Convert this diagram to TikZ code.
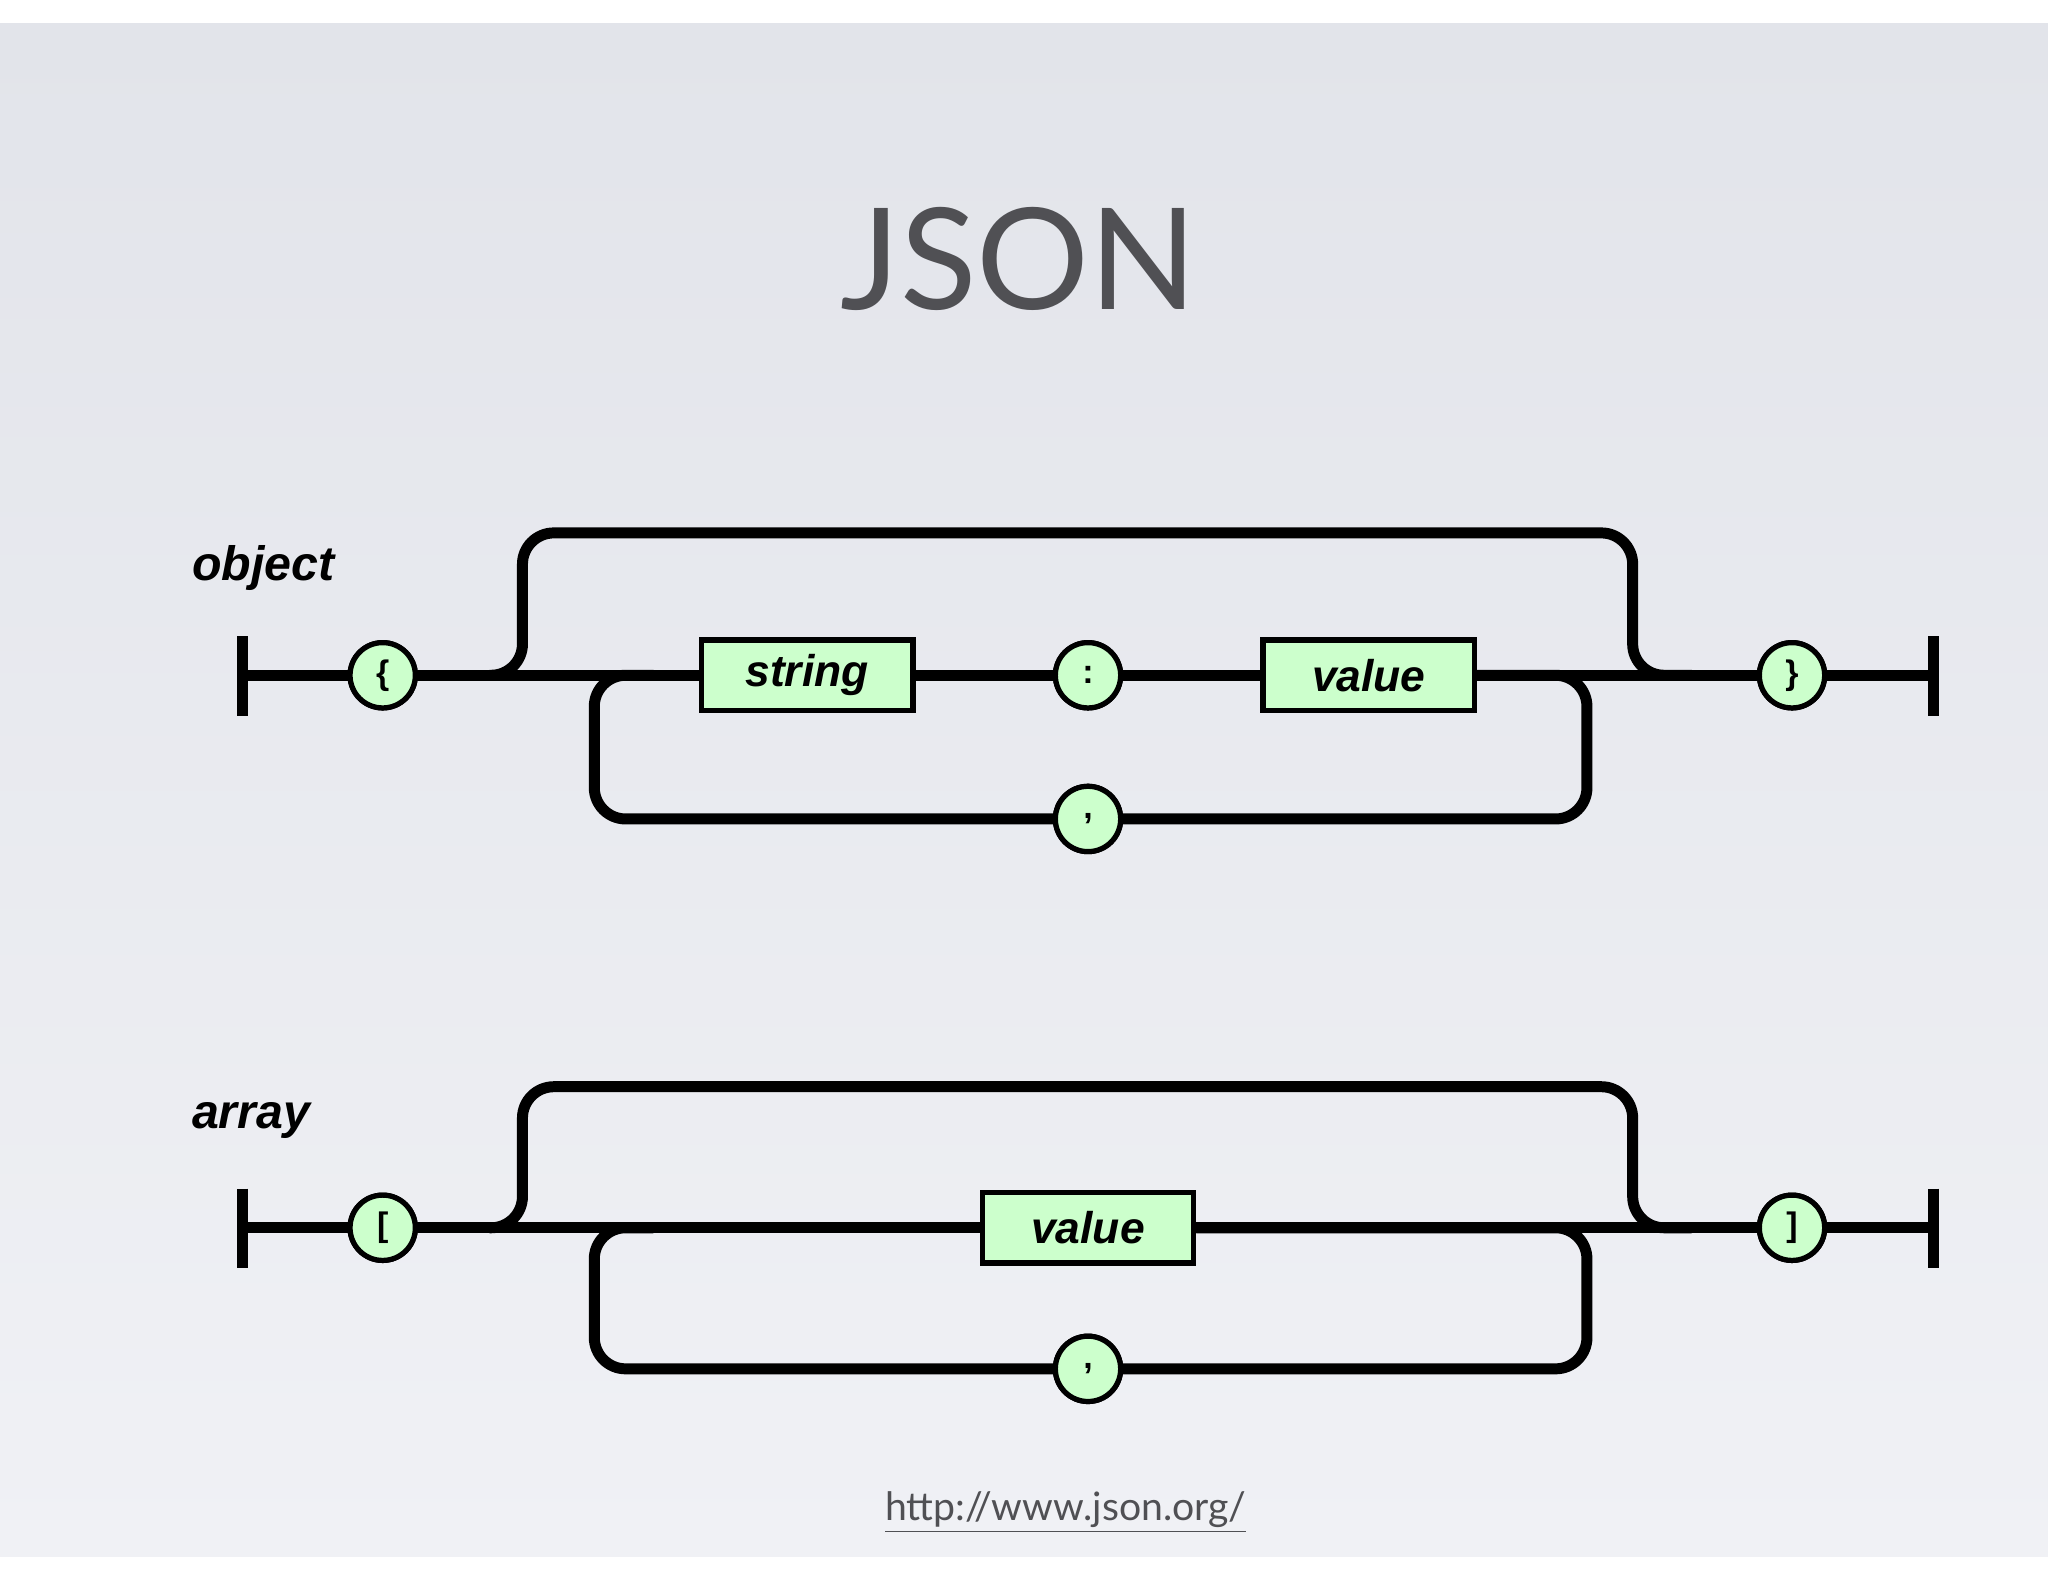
\documentclass[tikz,border=0pt]{standalone}
\usepackage{fontspec}
\setmainfont{Liberation Sans}
\newfontfamily\titlefont{Lato}
\usetikzlibrary{shadings}
\definecolor{gfill}{RGB}{204,255,204}
\definecolor{bgtop}{RGB}{226,228,234}
\definecolor{bgbot}{RGB}{240,241,245}
\definecolor{tgrey}{RGB}{80,80,84}
\begin{document}
\begin{tikzpicture}[x=0.5pt,y=-0.5pt,
  rail/.style={line width=4.2pt,line cap=round,rounded corners=12pt},
  term/.style={circle,draw,line width=2pt,fill=gfill,minimum size=25pt,inner sep=0pt,font=\bfseries\fontsize{13}{13}\selectfont},
  nt/.style={rectangle,draw,line width=2pt,fill=gfill,minimum width=81pt,minimum height=27pt,inner sep=0pt,font=\bfseries\itshape\fontsize{17}{17}\selectfont},
  lab/.style={font=\bfseries\itshape\fontsize{18.5}{18.5}\selectfont,anchor=west}]
\useasboundingbox (0,0) rectangle (1568,1211);
\fill[white] (0,0) rectangle (1568,1211);
\shade[top color=bgtop,bottom color=bgbot] (0,18) rectangle (1568,1192);
\node[font=\titlefont\fontsize{54}{54}\selectfont,text=tgrey] (title) at (780,198) {JSON};
\node[font=\titlefont\fontsize{15}{15}\selectfont,text=tgrey] (url) at (816,1158) {\underline{http://www.json.org/}};
% object
\node[lab] (olab) at (140,435) {object};
\coordinate (os) at (186,517);
\coordinate (oe) at (1480,517);
\node[term] (ob1) at (293,517) {\{};
\node[nt] (ostr) at (618,517) {string};
\node[term] (ocol) at (833,517) {:};
\node[nt] (oval) at (1048,517) {value};
\node[term] (ocom) at (833,627) {,};
\node[term] (ob2) at (1372,517) {\}};
\draw[line width=4.2pt] (186,487) -- (186,548) (1480,487) -- (1480,548);
\draw[rail] (os) -- (ob1) -- (ostr) -- (ocol) -- (oval) -- (ob2) -- (oe);
\draw[rail] (375,517) -| (400,408) -- (1250,408) |- (1295,517);
\draw[rail] (oval.east) -| (1215,627) -- (ocom) -| (455,517) -- (500,517);
% array
\node[lab] (alab) at (140,858) {array};
\coordinate (as) at (186,940);
\coordinate (ae) at (1480,940);
\node[term] (ab1) at (293,940) {[};
\node[nt] (aval) at (833,940) {value};
\node[term] (acom) at (833,1048) {,};
\node[term] (ab2) at (1372,940) {]};
\draw[line width=4.2pt] (186,910) -- (186,971) (1480,910) -- (1480,971);
\draw[rail] (as) -- (ab1) -- (aval) -- (ab2) -- (ae);
\draw[rail] (375,940) -| (400,832) -- (1250,832) |- (1295,940);
\draw[rail] (aval.east) -| (1215,1048) -- (acom) -| (455,940) -- (500,940);
\node[term] at (ob1) {\{};\node[term] at (ocol) {:};\node[term] at (ocom) {,};\node[term] at (ob2) {\}};
\node[nt] at (ostr) {string};\node[nt] at (oval) {value};
\node[term] at (ab1) {[};\node[term] at (acom) {,};\node[term] at (ab2) {]};\node[nt] at (aval) {value};
\end{tikzpicture}
\end{document}
